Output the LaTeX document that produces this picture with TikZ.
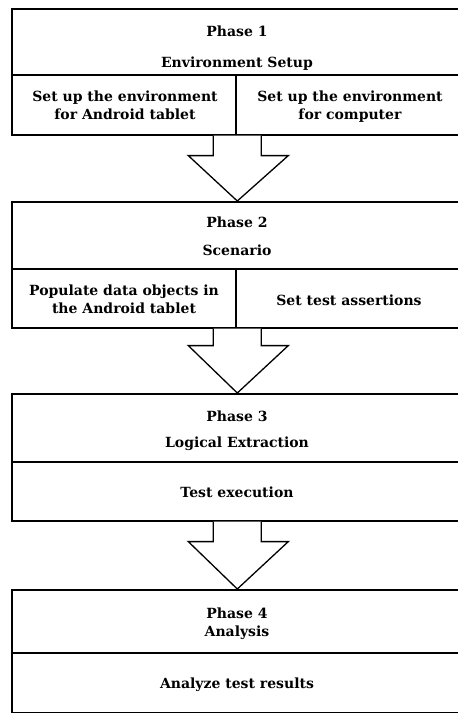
\documentclass[tikz,border=0pt]{standalone}
\usepackage{fontspec}
\setmainfont{DejaVu Serif}
\usetikzlibrary{calc}
\begin{document}
\begin{tikzpicture}[x=1pt,y=-1pt,
  box/.style={draw, line width=1.6pt, rectangle, inner sep=0pt, anchor=north west},
  sep/.style={line width=1.4pt},
  blockarrow/.style={draw, line width=1.3pt, fill=white, line join=miter},
  txt/.style={font=\bfseries\fontsize{14}{17.8}\selectfont, anchor=base, inner sep=0pt, align=center}]
\useasboundingbox (0,0) rectangle (458,713);
% boxes
\node[box, minimum width=451pt, minimum height=126pt] (b1) at (11,8) {};
\node[box, minimum width=451pt, minimum height=126pt] (b2) at (11,201) {};
\node[box, minimum width=451pt, minimum height=127pt] (b3) at (11,393) {};
\node[box, minimum width=451pt, minimum height=123pt] (b4) at (11,589) {};
% separators
\draw[sep] (11,75) -- (462,75);
\draw[sep] (236,75) -- (236,134);
\draw[sep] (11,269) -- (462,269);
\draw[sep] (236,269) -- (236,327);
\draw[sep] (11,462) -- (462,462);
\draw[sep] (11,653) -- (462,653);
% block arrows
\foreach \a/\b/\h in {b1/b2/20, b2/b3/17, b3/b4/20}{
  \draw[blockarrow] ($(\a.south)+(-24,0)$) |- ($(\a.south)+(-49,\h)$) -- (\b.north)
     -- ($(\a.south)+(51,\h)$) -| ($(\a.south)+(24,0)$);
}
% texts
\node[txt] (t1a) at (237,36.5) {Phase 1};
\node[txt] (t1b) at (237,67.5) {Environment Setup};
\node[txt] (t1c) at (125,119.5) {Set up the environment\\for Android tablet};
\node[txt] (t1d) at (350,119.5) {Set up the environment\\for computer};
\node[txt] (t2a) at (237,227.7) {Phase 2};
\node[txt] (t2b) at (237,255) {Scenario};
\node[txt] (t2c) at (124,313.3) {Populate data objects in\\the Android tablet};
\node[txt] (t2d) at (349,305) {Set test assertions};
\node[txt] (t3a) at (237,421) {Phase 3};
\node[txt] (t3b) at (237,447.3) {Logical Extraction};
\node[txt] (t3c) at (237,497.3) {Test execution};
\node[txt] (t4a) at (237,618.3) {Phase 4};
\node[txt] (t4b) at (237,636.7) {Analysis};
\node[txt] (t4c) at (237,688.3) {Analyze test results};
\end{tikzpicture}
\end{document}
